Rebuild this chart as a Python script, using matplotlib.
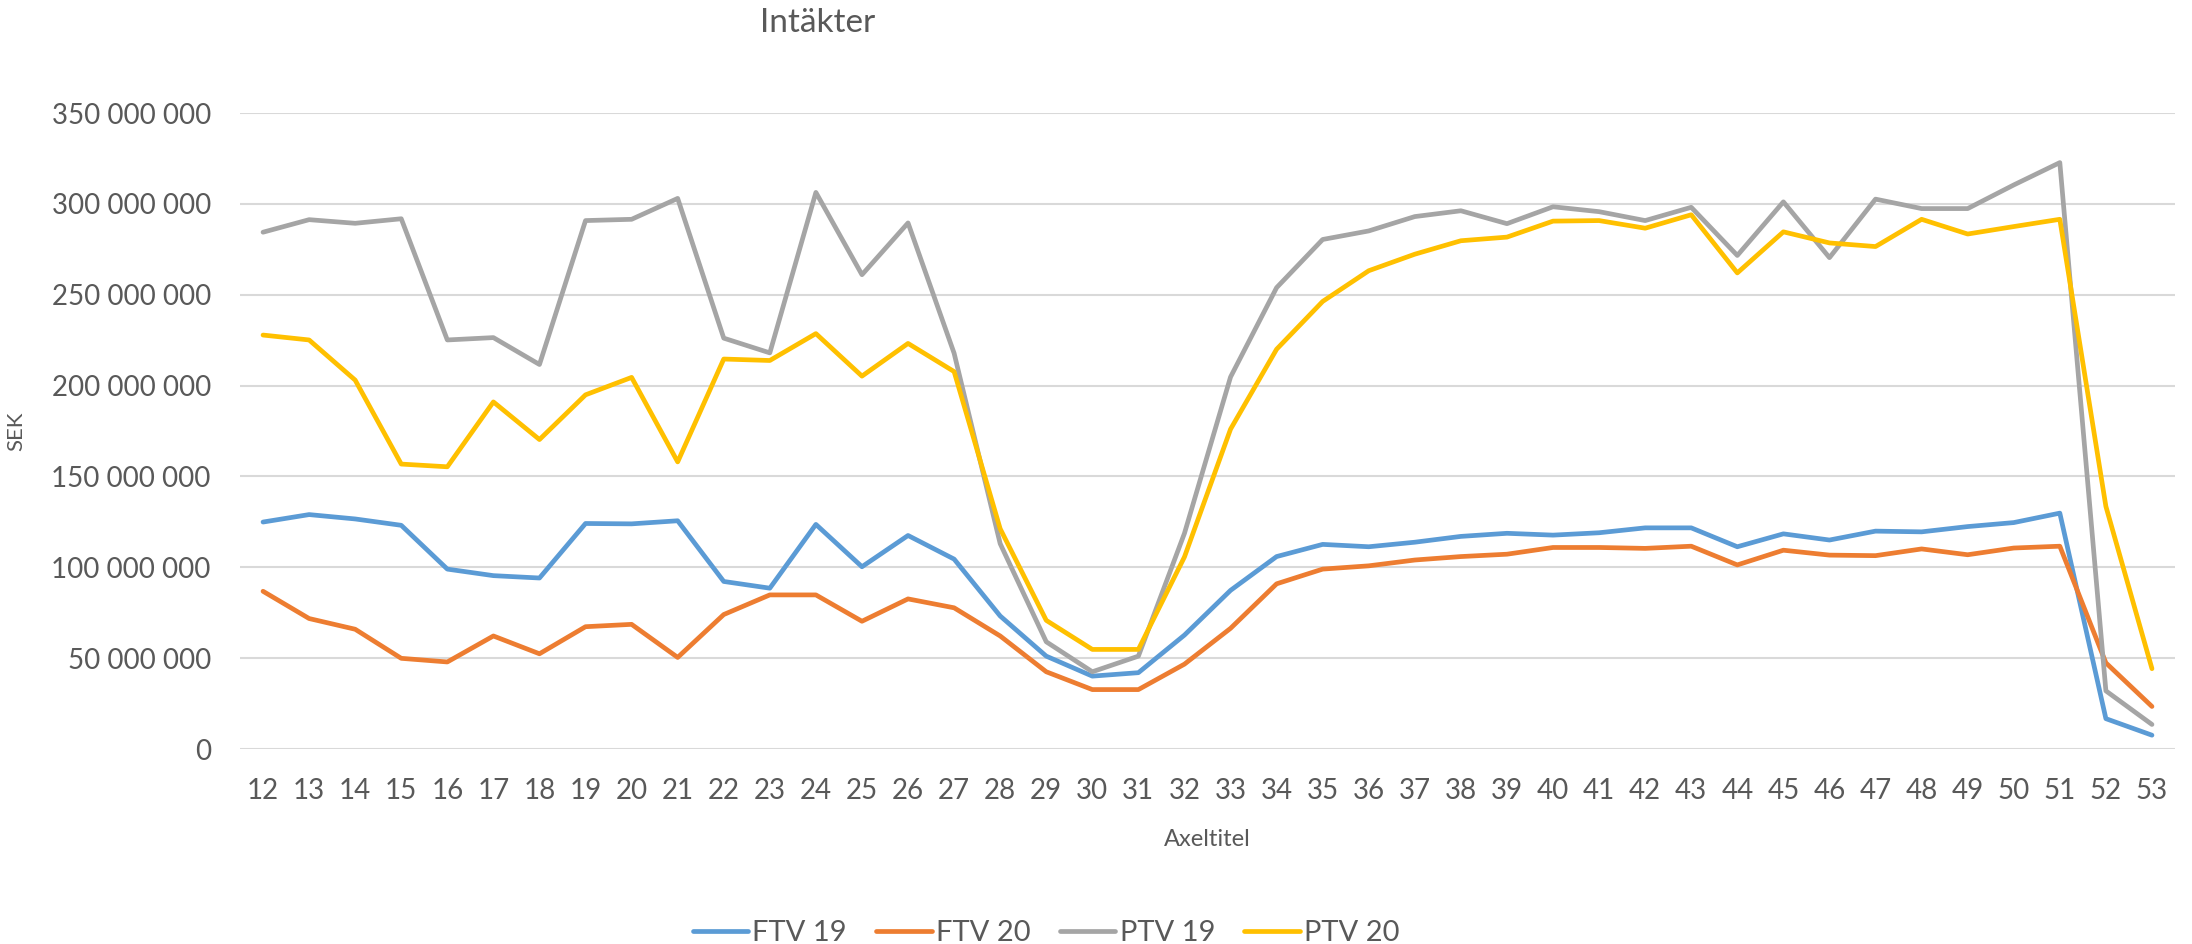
import matplotlib
matplotlib.use("Agg")
import matplotlib.pyplot as plt
from matplotlib.ticker import FuncFormatter, MultipleLocator

plt.rcParams["font.family"] = ["Lato", "DejaVu Sans"]

# weeks 12..53
weeks = list(range(12, 54))

# revenue in million SEK
ftv19 = [124.9, 129.0, 126.6, 123.1, 99.0, 95.4, 94.1, 124.1, 123.9, 125.6,
         92.2, 88.5, 123.6, 100.3, 117.5, 104.5, 73.2, 51.1, 40.1, 42.0,
         62.7, 87.3, 105.9, 112.6, 111.3, 113.8, 117.0, 118.7, 117.7, 119.0,
         121.7, 121.7, 111.3, 118.4, 115.0, 119.9, 119.5, 122.4, 124.6, 129.8,
         16.7, 7.6]
ftv20 = [86.8, 71.8, 65.9, 49.9, 47.9, 62.2, 52.4, 67.3, 68.6, 50.4,
         74.0, 84.8, 84.8, 70.3, 82.6, 77.7, 62.2, 42.5, 32.7, 32.7,
         46.7, 66.4, 90.9, 99.0, 100.8, 104.0, 105.9, 107.2, 110.9, 110.9,
         110.4, 111.6, 101.3, 109.4, 106.7, 106.4, 110.1, 106.9, 110.6, 111.6,
         47.4, 23.4]
ptv19 = [284.4, 291.3, 289.3, 291.8, 225.1, 226.4, 211.6, 290.8, 291.5, 303.0,
         226.1, 218.0, 306.3, 261.0, 289.5, 217.8, 113.0, 59.0, 42.5, 51.1,
         118.7, 204.7, 253.9, 280.4, 285.1, 293.0, 296.2, 289.1, 298.4, 295.7,
         290.8, 298.1, 271.6, 301.1, 270.4, 302.6, 297.4, 297.4, 310.4, 322.7,
         32.0, 13.5]
ptv20 = [227.8, 225.1, 203.0, 156.8, 155.3, 191.0, 170.3, 194.9, 204.5, 158.0,
         214.6, 213.8, 228.6, 205.2, 223.2, 207.7, 121.2, 70.8, 54.8, 54.8,
         105.7, 176.0, 220.0, 246.3, 263.2, 272.3, 279.7, 281.7, 290.5, 290.8,
         286.6, 294.0, 262.0, 284.6, 278.5, 276.5, 291.5, 283.4, 287.5, 291.5,
         133.5, 44.2]

series = [("FTV 19", ftv19, "#5B9BD5"),
          ("FTV 20", ftv20, "#ED7D31"),
          ("PTV 19", ptv19, "#A5A5A5"),
          ("PTV 20", ptv20, "#FFC000")]

text_color = "#595959"
grid_color = "#D9D9D9"

fig = plt.figure(figsize=(21.92, 9.44), dpi=100)
ax = fig.add_axes([240 / 2192, 1 - 749 / 944, 1935 / 2192, 636 / 944])

x = list(range(len(weeks)))
for name, vals, col in series:
    ax.plot(x, [v * 1e6 for v in vals], color=col, lw=3.4, label=name,
            solid_capstyle="round", solid_joinstyle="round")

ax.set_xlim(-0.5, len(weeks) - 0.5)
ax.set_ylim(0, 350e6)
ax.yaxis.set_major_locator(MultipleLocator(50e6))
ax.yaxis.set_major_formatter(FuncFormatter(lambda v, p: f"{v:,.0f}".replace(",", " ")))
ax.set_xticks(x)
ax.set_xticklabels([str(w) for w in weeks])
ax.tick_params(axis="both", length=0, labelsize=20, labelcolor=text_color, pad=21)
ax.grid(axis="y", color=grid_color, lw=1.5)
ax.set_axisbelow(True)
for s in ax.spines.values():
    s.set_visible(False)

ax.set_xlabel("Axeltitel", fontsize=17, color=text_color, labelpad=18)
ax.set_ylabel("SEK", fontsize=16, color=text_color, labelpad=22)
ax.yaxis.set_label_coords(-(240 - 26) / 1935, 0.5)

fig.text(818 / 2192, 1 - 23 / 944, "Intäkter", ha="center", va="center",
         fontsize=24, color=text_color)

fig.legend(loc="center", bbox_to_anchor=(1046 / 2192, 1 - 933 / 944), ncol=4,
           frameon=False, fontsize=21, handlelength=1.9, handletextpad=0.15,
           columnspacing=1.0, labelcolor=text_color)

fig.savefig("out.png", dpi=100)
